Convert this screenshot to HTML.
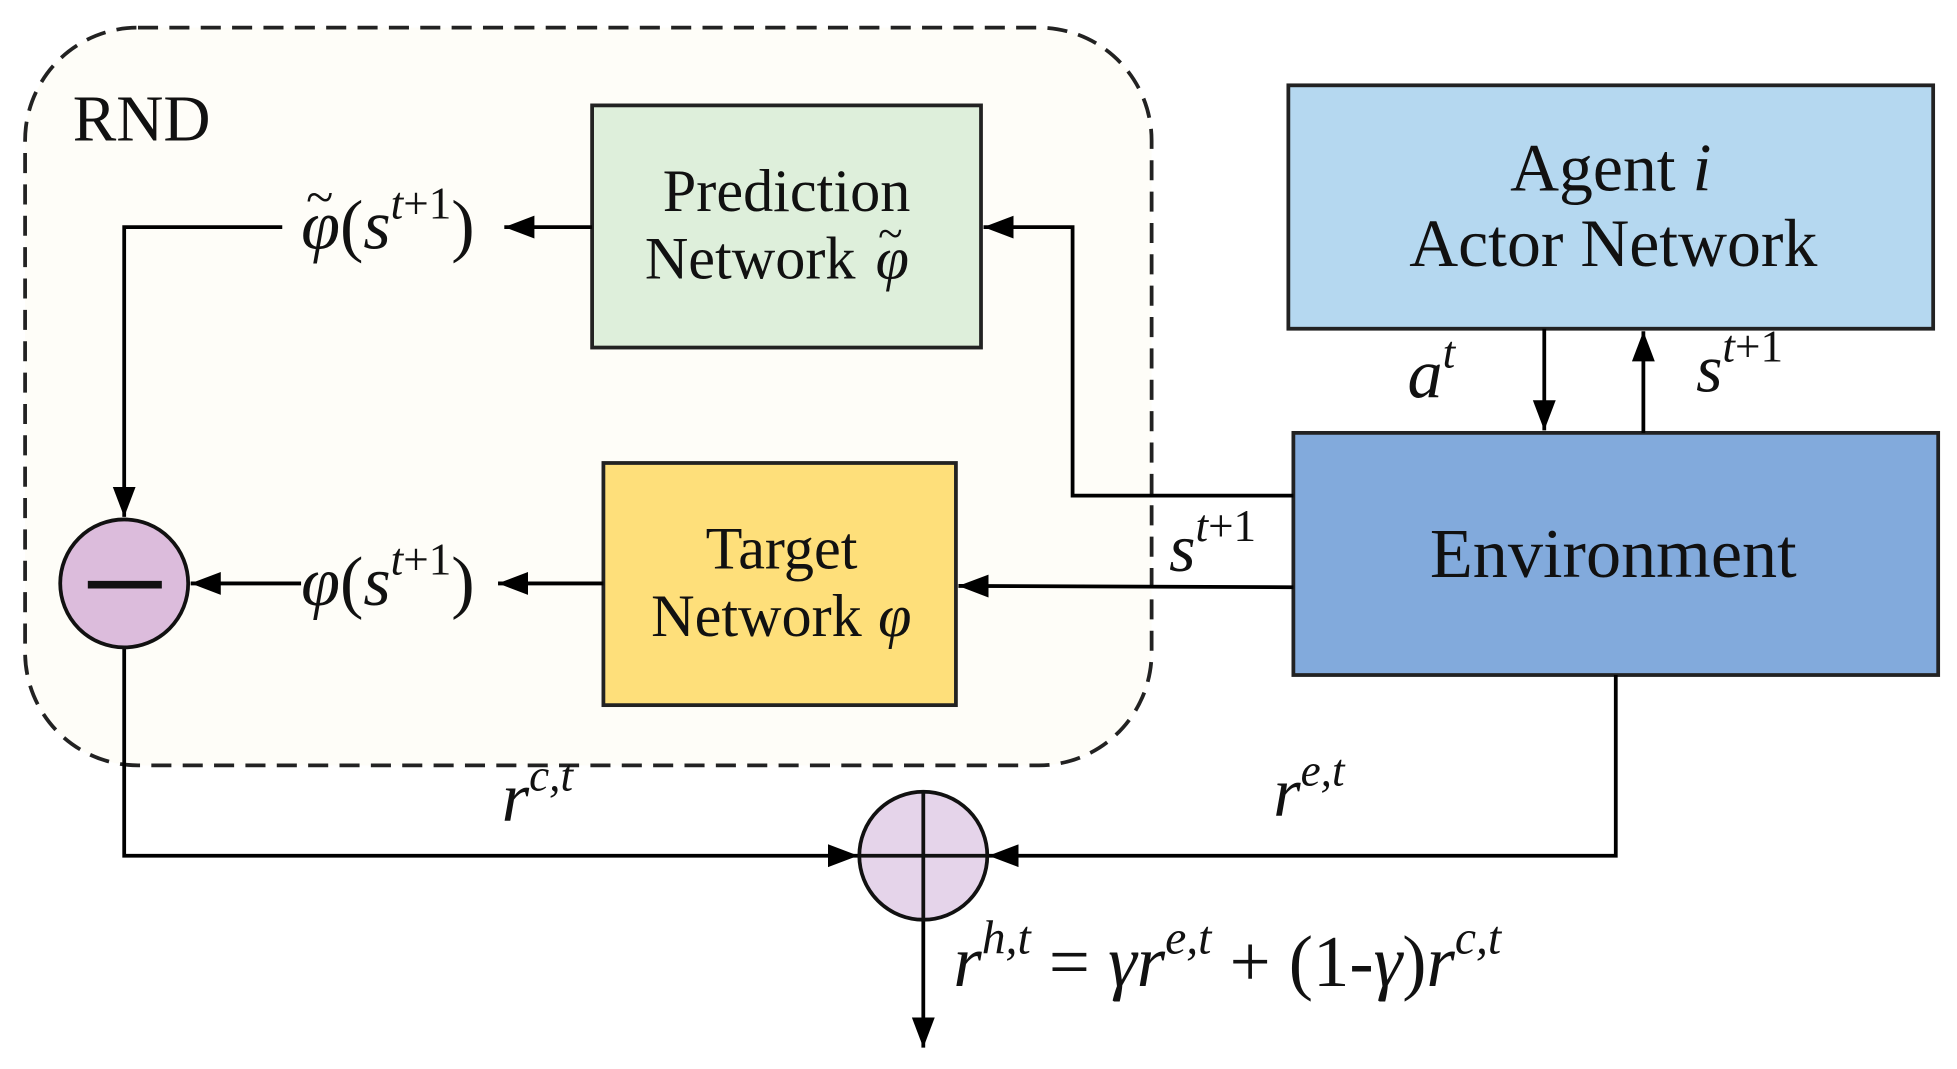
<!DOCTYPE html>
<html><head><meta charset="utf-8"><style>
html,body{margin:0;padding:0;background:#fff;}
svg{display:block;}
text{font-family:"Liberation Serif",serif;fill:#111;}
</style></head><body>
<svg width="1957" height="1069" viewBox="0 0 1560 852" preserveAspectRatio="none" xmlns="http://www.w3.org/2000/svg">
<defs>
<marker id="b" viewBox="0 0 10 10" refX="10" refY="5" markerWidth="24" markerHeight="24" markerUnits="userSpaceOnUse" orient="auto">
<path d="M0,1.2 L10,5 L0,8.8 z" fill="#000"/></marker>
</defs>
<rect x="20" y="22" width="898" height="588" rx="90" fill="#fefdf8" stroke="#222" stroke-width="3" stroke-dasharray="16,9"/>
<text x="58" y="112" font-size="52">RND</text>

<rect x="472" y="84" width="310" height="193" fill="#deefdb" stroke="#222" stroke-width="3"/>
<text x="627" y="168" font-size="48" text-anchor="middle">Prediction</text>
<text x="598" y="222" font-size="48" text-anchor="middle">Network</text>
<text x="698" y="222" font-size="48" font-style="italic">φ</text>
<text x="700" y="198" font-size="36">~</text>

<rect x="481" y="369" width="281" height="193" fill="#fedf7a" stroke="#222" stroke-width="3"/>
<text x="623" y="453" font-size="48" text-anchor="middle">Target</text>
<text x="603" y="507" font-size="48" text-anchor="middle">Network</text>
<text x="700" y="507" font-size="48" font-style="italic">φ</text>

<rect x="1027" y="68" width="514" height="194" fill="#b5d8f0" stroke="#222" stroke-width="3"/>
<text x="1284" y="152" font-size="54" text-anchor="middle">Agent <tspan font-style="italic">i</tspan></text>
<text x="1286" y="212" font-size="54" text-anchor="middle">Actor Network</text>

<rect x="1031" y="345" width="514" height="193" fill="#82aadc" stroke="#222" stroke-width="3"/>
<text x="1286" y="460" font-size="56" text-anchor="middle">Environment</text>

<g stroke="#000" stroke-width="3" fill="none">
<polyline points="1031,395 855,395 855,181 784,181" marker-end="url(#b)"/>
<line x1="1031" y1="468" x2="764" y2="467" marker-end="url(#b)"/>
<line x1="481" y1="465" x2="397" y2="465" marker-end="url(#b)"/>
<line x1="240" y1="465" x2="152" y2="465" marker-end="url(#b)"/>
<line x1="472" y1="181" x2="402" y2="181" marker-end="url(#b)"/>
<polyline points="225,181 99,181 99,412" marker-end="url(#b)"/>
<polyline points="99,516 99,682 684,682" marker-end="url(#b)"/>
<polyline points="1288,538 1288,682 788,682" marker-end="url(#b)"/>
<line x1="736" y1="733" x2="736" y2="835" marker-end="url(#b)"/>
<line x1="1231" y1="262" x2="1231" y2="343" marker-end="url(#b)"/>
<line x1="1310" y1="345" x2="1310" y2="264" marker-end="url(#b)"/>
</g>

<circle cx="99" cy="465" r="51" fill="#dcbcdc" stroke="#111" stroke-width="3"/>
<line x1="70" y1="466" x2="129" y2="466" stroke="#111" stroke-width="6"/>
<circle cx="736" cy="682" r="51" fill="#e5d4ea" stroke="#111" stroke-width="3"/>
<line x1="736" y1="631" x2="736" y2="733" stroke="#111" stroke-width="3"/>
<line x1="685" y1="682" x2="787" y2="682" stroke="#111" stroke-width="3"/>

<text x="240" y="198" font-size="56"><tspan font-style="italic">φ</tspan>(<tspan font-style="italic">s</tspan><tspan font-size="36" dy="-24"><tspan font-style="italic">t</tspan>+1</tspan><tspan dy="24">)</tspan></text>
<text x="244" y="170" font-size="40">~</text>
<text x="240" y="482" font-size="56"><tspan font-style="italic">φ</tspan>(<tspan font-style="italic">s</tspan><tspan font-size="36" dy="-24"><tspan font-style="italic">t</tspan>+1</tspan><tspan dy="24">)</tspan></text>
<text x="932" y="455" font-size="54"><tspan font-style="italic">s</tspan><tspan font-size="36" dy="-24"><tspan font-style="italic">t</tspan>+1</tspan></text>
<text x="1352" y="312" font-size="54"><tspan font-style="italic">s</tspan><tspan font-size="36" dy="-24"><tspan font-style="italic">t</tspan>+1</tspan></text>
<text x="1122" y="317" font-size="56" font-style="italic">a<tspan font-size="36" dy="-24">t</tspan></text>
<text x="400" y="654" font-size="56" font-style="italic">r<tspan font-size="36" dy="-24">c,t</tspan></text>
<text x="1015" y="650" font-size="56" font-style="italic">r<tspan font-size="36" dy="-24">e,t</tspan></text>
<text x="760" y="786" font-size="58"><tspan font-style="italic">r</tspan><tspan font-size="38" dy="-26" font-style="italic">h,t</tspan><tspan dy="26"> = </tspan><tspan font-style="italic">γr</tspan><tspan font-size="38" dy="-26" font-style="italic">e,t</tspan><tspan dy="26"> + (1-</tspan><tspan font-style="italic">γ</tspan>)<tspan font-style="italic">r</tspan><tspan font-size="38" dy="-26" font-style="italic">c,t</tspan></text>
</svg>
</body></html>
